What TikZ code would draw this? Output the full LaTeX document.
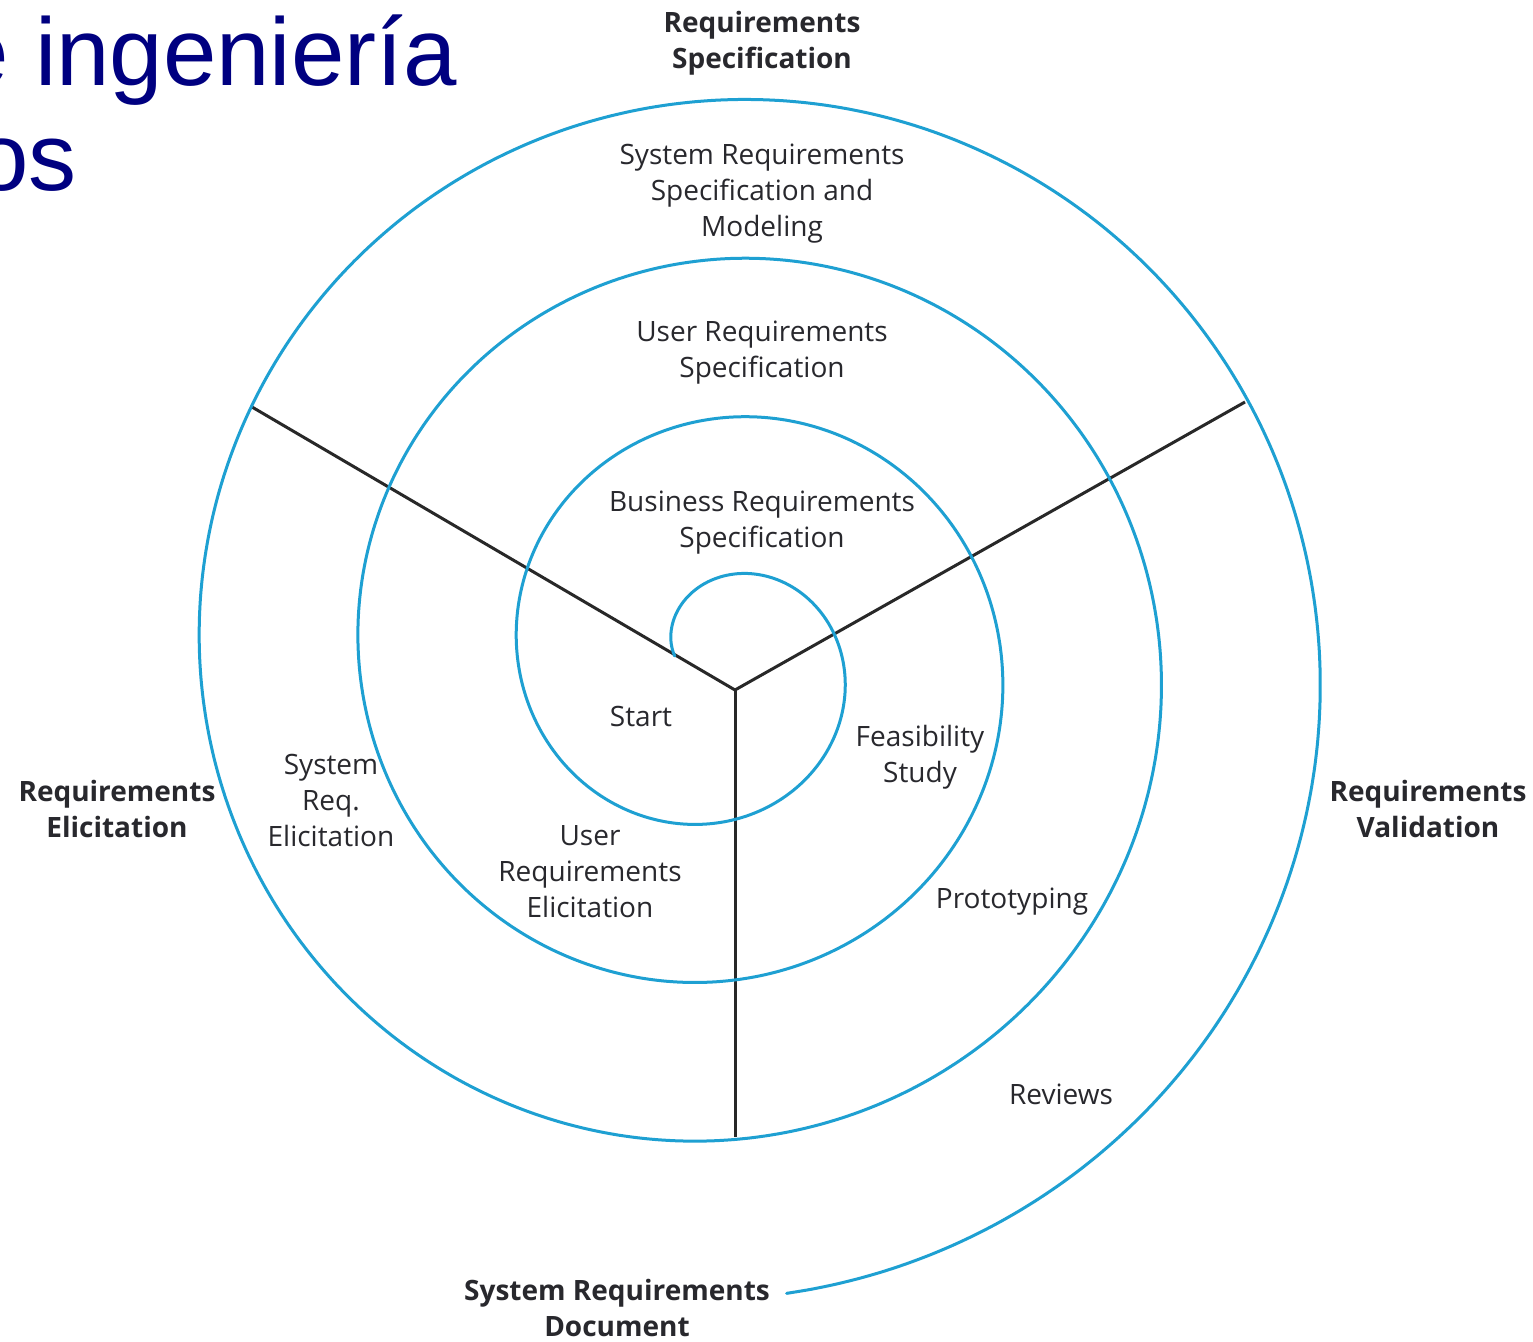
\documentclass[tikz,border=0pt]{standalone}
\usepackage{fontspec}
\setmainfont{Open Sans}
\newfontfamily\titlefont{Liberation Sans}
\definecolor{spiralblue}{RGB}{30,160,210}
\definecolor{linegray}{RGB}{40,40,40}
\definecolor{textgray}{RGB}{40,40,45}
\definecolor{titlenavy}{RGB}{0,0,128}
\begin{document}
\begin{tikzpicture}[x=1pt,y=-1pt,
  spiral/.style={draw=spiralblue,line width=3pt},
  spoke/.style={draw=linegray,line width=3pt},
  lbl/.style={font=\fontsize{28}{36}\selectfont,text=textgray,align=center,inner sep=0pt},
  lblb/.style={font=\fontsize{28}{36}\selectfont\bfseries,text=textgray,align=center,inner sep=0pt},
  ttl/.style={font=\titlefont\fontsize{96}{110}\selectfont,text=titlenavy,inner sep=0pt}]
\useasboundingbox[fill=white] (0,0) rectangle (1533,1341);
% title fragments
\node[ttl,anchor=base east] (t1) at (457,85) {e ingeniería};
\node[ttl,anchor=base east] (t2) at (77,190) {os};
% spokes
\coordinate (O) at (735,690);
\coordinate (UL) at (252,407);
\coordinate (UR) at (1245,402);
\coordinate (D) at (735,1137);
\draw[spoke] (O) -- (UL);
\draw[spoke] (O) -- (UR);
\draw[spoke] (O) -- (D);
% spiral
\draw[spiral,line cap=round] plot[domain=-85:1254,samples=600,smooth,variable=\t]
  ({720+(83+0.44167*\t)*sin(\t)},{660-(83+0.44167*\t)*cos(\t)});
% labels
\node[lblb] (rs) at (762,43) {Requirements\\Specification};
\node[lbl] (ssm) at (762,194) {System Requirements\\Specification and\\Modeling};
\node[lbl] (urs) at (762,353) {User Requirements\\Specification};
\node[lbl] (brs) at (762,523) {Business Requirements\\Specification};
\node[lbl] (start) at (641,716) {Start};
\node[lbl] (fs) at (920,757) {Feasibility\\Study};
\node[lbl] (sre) at (331,800) {System\\Req.\\Elicitation};
\node[lbl] (ure) at (590,872) {User\\Requirements\\Elicitation};
\node[lbl] (proto) at (1012,902) {Prototyping};
\node[lbl] (rev) at (1061,1094) {Reviews};
\node[lblb] (re) at (117,809) {Requirements\\Elicitation};
\node[lblb] (rv) at (1428,809) {Requirements\\Validation};
\node[lblb] (srd) at (617,1308) {System Requirements\\Document};
\end{tikzpicture}
\end{document}
